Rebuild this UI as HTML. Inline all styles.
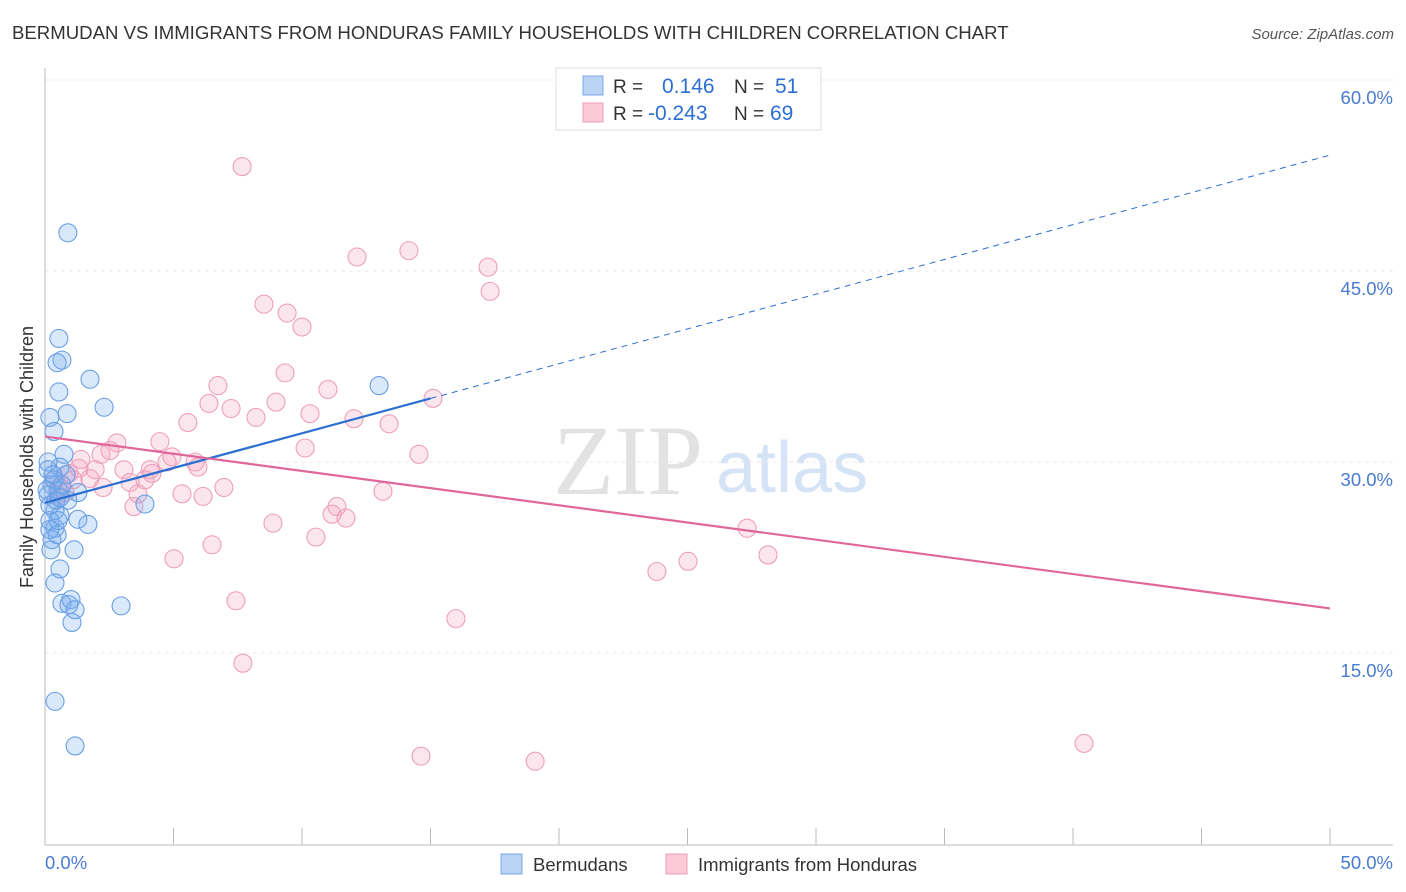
<!DOCTYPE html>
<html><head><meta charset="utf-8"><style>
body{margin:0;background:#fff;font-family:"Liberation Sans",sans-serif;}
svg{display:block}
</style></head><body>
<svg width="1406" height="892" viewBox="0 0 1406 892" id="chart">
<text x="12" y="39" font-size="18.6" fill="#333">BERMUDAN VS IMMIGRANTS FROM HONDURAS FAMILY HOUSEHOLDS WITH CHILDREN CORRELATION CHART</text>
<text x="1394" y="39" font-size="15" fill="#555" font-style="italic" text-anchor="end">Source: ZipAtlas.com</text>
<text transform="translate(33,457) rotate(-90)" font-size="18" fill="#333" text-anchor="middle">Family Households with Children</text>
<g>
<text x="553" y="494" font-size="100" fill="#e2e2e2" font-family="Liberation Serif,serif">ZIP</text>
<text x="716" y="492" font-size="72" fill="#d5e3f6">atlas</text>
</g>
<g id="grid"></g><g id="axes"></g><g id="marks"></g>
<g>
<rect x="556" y="68" width="265" height="62" fill="#fff" stroke="#ddd"/>
<rect x="583" y="76" width="20" height="19" fill="#b9d3f5" stroke="#7aa7e6"/>
<rect x="583" y="103" width="20" height="19" fill="#fbc9d8" stroke="#eda0b8"/>
<text x="613" y="93" font-size="19" fill="#333">R = <tspan fill="#2e6fd3" x="662" font-size="21">0.146</tspan><tspan x="734" fill="#333">N = </tspan><tspan fill="#2e6fd3" x="775" font-size="21">51</tspan></text>
<text x="613" y="120" font-size="19" fill="#333">R = <tspan fill="#2e6fd3" x="648" font-size="21">-0.243</tspan><tspan x="734" fill="#333">N = </tspan><tspan fill="#2e6fd3" x="770" font-size="21">69</tspan></text>
</g>
<g>
<rect x="501" y="854" width="21" height="20" fill="#b9d3f5" stroke="#7aa7e6"/>
<text x="533" y="871" font-size="18.5" fill="#333">Bermudans</text>
<rect x="666" y="854" width="21" height="20" fill="#fbc9d8" stroke="#eda0b8"/>
<text x="698" y="871" font-size="18.5" fill="#333">Immigrants from Honduras</text>
</g>
</svg>
<script>
const yTicks=[15,30,45,60];
const yTickLabels=["15.0%","30.0%","45.0%","60.0%"];
const xTickLabels=["0.0%","50.0%"];
const blueX=[0.89,0.54,0.66,0.47,1.75,0.54,2.30,0.86,0.19,0.35,0.74,0.58,0.12,1.28,0.89,3.89,0.35,0.27,0.51,0.12,0.39,0.58,0.19,1.28,1.67,0.39,0.47,0.23,1.13,0.58,0.39,0.66,1.01,0.93,1.17,1.05,2.96,0.39,1.17,13.0,0.12,0.19,0.27,0.43,0.82,0.66,0.51,0.19,0.31,0.08,0.58];
const blueY=[48.0,39.7,38.0,37.8,36.5,35.5,34.3,33.8,33.5,32.4,30.6,29.6,29.4,27.6,27.0,26.7,28.6,28.2,27.8,27.4,26.2,25.8,25.4,25.5,25.1,24.8,24.3,23.1,23.1,21.6,20.5,18.9,19.2,18.8,18.4,17.4,18.7,11.2,7.7,36.0,30.0,26.6,23.9,27.0,29.0,28.2,25.4,24.7,29.0,27.8,27.2];
const pinkX=[7.67,14.16,12.14,17.24,17.32,8.52,9.42,10.0,9.34,6.73,11.01,6.38,8.99,7.24,8.21,10.31,15.10,12.02,13.39,5.56,4.47,2.80,2.53,10.12,4.94,14.55,1.40,2.18,5.84,4.75,1.32,3.07,4.16,0.93,1.75,3.31,5.95,2.26,6.96,5.33,6.15,13.15,3.62,0.58,0.78,3.46,11.36,11.17,11.71,8.87,10.54,27.32,6.50,5.02,28.13,25.02,23.81,7.43,15.99,7.70,14.63,19.07,40.43,0.39,0.51,1.09,1.95,3.89,4.09];
const pinkY=[53.2,46.6,46.1,45.3,43.4,42.4,41.7,40.6,37.0,36.0,35.7,34.6,34.7,34.2,33.5,33.8,35.0,33.4,33.0,33.1,31.6,31.5,30.9,31.1,30.4,30.6,30.2,30.6,30.0,30.0,29.5,29.4,29.1,29.1,28.7,28.4,29.6,28.0,28.0,27.5,27.3,27.7,27.5,28.0,27.6,26.5,26.5,25.9,25.6,25.2,24.1,24.8,23.5,22.4,22.7,22.2,21.4,19.1,17.7,14.2,6.9,6.5,7.9,28.6,27.4,28.6,29.4,28.6,29.4];
const blueTrend=[26.8,0.546];
const pinkTrend=[32.0,-0.27];

const NS="http://www.w3.org/2000/svg";
const X=v=>45+v/50*1285;
const Y=v=>844-v/15*191;
function mk(tag,attrs,parent){const e=document.createElementNS(NS,tag);for(const k in attrs)e.setAttribute(k,attrs[k]);parent.appendChild(e);return e;}
const grid=document.getElementById('grid'),axes=document.getElementById('axes'),marks=document.getElementById('marks');
yTicks.forEach((t,i)=>{
 const l=mk('line',{x1:45,x2:1393,y1:Y(t),y2:Y(t),stroke:'#e8e8e8','stroke-dasharray':'4,4'},grid);
 
 
 const tx=mk('text',{x:1393,y:Y(t)+24,'font-size':18.5,fill:'#4a7bd0','text-anchor':'end'},axes);
 tx.textContent=yTickLabels[i];
 
 
});
let a=mk('line',{x1:45,x2:45,y1:68,y2:845,stroke:'#bbb'},axes);


a=mk('line',{x1:45,x2:1393,y1:845,y2:845,stroke:'#bbb'},axes);


for(let i=0;i<=10;i++){
 const t=mk('line',{x1:X(i*5),x2:X(i*5),y1:828,y2:845,stroke:'#bbb'},axes);
 
 
}
let xl=mk('text',{x:45,y:869,'font-size':18.5,fill:'#4a7bd0'},axes);xl.textContent=xTickLabels[0];


xl=mk('text',{x:1393,y:869,'font-size':18.5,fill:'#4a7bd0','text-anchor':'end'},axes);xl.textContent=xTickLabels[1];



function dots(xs,ys,fill,stroke,name){xs.forEach((x,i)=>{
 const c=mk('circle',{cx:X(x),cy:Y(ys[i]),r:9,fill:fill,stroke:stroke,'stroke-width':1.1},marks);
 
 
});}
dots(pinkX,pinkY,'rgba(243,165,192,0.28)','#ee9fb9','honduras-point');
dots(blueX,blueY,'rgba(120,172,238,0.28)','#6a9fe4','bermudan-point');
const bx=Math.max(...blueX);
let tl=mk('line',{x1:X(0),y1:Y(blueTrend[0]),x2:X(bx+2),y2:Y(blueTrend[0]+blueTrend[1]*(bx+2)),stroke:'#2a6fd1','stroke-width':2.2},marks);


tl=mk('line',{x1:X(bx+2),y1:Y(blueTrend[0]+blueTrend[1]*(bx+2)),x2:X(50),y2:Y(blueTrend[0]+blueTrend[1]*50),stroke:'#2a6fd1','stroke-width':1,'stroke-dasharray':'6,5'},marks);


tl=mk('line',{x1:X(0),y1:Y(pinkTrend[0]),x2:X(50),y2:Y(pinkTrend[0]+pinkTrend[1]*50),stroke:'#e0679a','stroke-width':2.2},marks);


</script>
</body></html>
